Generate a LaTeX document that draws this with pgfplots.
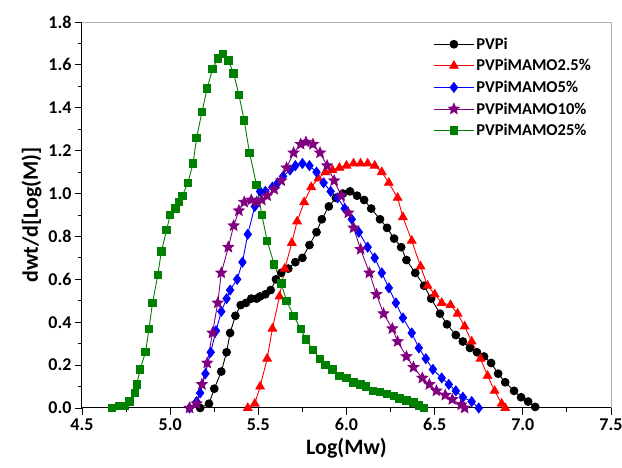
\documentclass[border=0pt]{standalone}
\usepackage{fontspec}
\setmainfont{Carlito}
\usepackage{pgfplots}
\pgfplotsset{compat=1.18}

\definecolor{cpurple}{RGB}{128,0,128}
\definecolor{cgreen}{RGB}{0,128,0}

% filled five-pointed star
\pgfdeclareplotmark{fstar}{%
  \pgfpathmoveto{\pgfpointpolar{90}{\pgfplotmarksize}}%
  \pgfpathlineto{\pgfpointpolar{126}{0.45\pgfplotmarksize}}%
  \pgfpathlineto{\pgfpointpolar{162}{\pgfplotmarksize}}%
  \pgfpathlineto{\pgfpointpolar{198}{0.45\pgfplotmarksize}}%
  \pgfpathlineto{\pgfpointpolar{234}{\pgfplotmarksize}}%
  \pgfpathlineto{\pgfpointpolar{270}{0.45\pgfplotmarksize}}%
  \pgfpathlineto{\pgfpointpolar{306}{\pgfplotmarksize}}%
  \pgfpathlineto{\pgfpointpolar{342}{0.45\pgfplotmarksize}}%
  \pgfpathlineto{\pgfpointpolar{18}{\pgfplotmarksize}}%
  \pgfpathlineto{\pgfpointpolar{54}{0.45\pgfplotmarksize}}%
  \pgfpathclose
  \pgfusepathqfillstroke
}

\begin{document}
\begin{tikzpicture}
\useasboundingbox (-82pt,-60pt) rectangle (540pt,408pt);
\begin{axis}[
  scale only axis, width=529pt, height=386pt,
  xmin=4.5, xmax=7.5, ymin=0, ymax=1.8,
  xtick={4.5,5.0,5.5,6.0,6.5,7.0,7.5},
  ytick={0,0.2,0.4,0.6,0.8,1.0,1.2,1.4,1.6,1.8},
  minor x tick num=1, minor y tick num=1,
  axis x line*=bottom, axis y line*=left,
  axis line style={-, black, line width=1pt},
  tick align=outside, major tick length=7pt, minor tick length=4pt,
  every tick/.style={black, line width=0.9pt},
  tick label style={font=\fontsize{18}{20}\selectfont\bfseries},
  xticklabel style={/pgf/number format/.cd, fixed, fixed zerofill, precision=1, assume math mode=true},
  yticklabel style={/pgf/number format/.cd, fixed, fixed zerofill, precision=1, assume math mode=true},
  xlabel={Log(Mw)}, ylabel={dwt/d[Log(M)]},
  label style={font=\fontsize{22}{24}\selectfont\bfseries},
  clip=false,
  legend style={at={(rel axis cs:0.664,0.965)}, anchor=north west, draw=none, fill=none,
    font=\fontsize{16.5}{18}\selectfont\bfseries, row sep=4.5pt, inner sep=0pt},
  legend cell align=left,
  legend image code/.code={\draw[mark repeat=2,mark phase=2,#1] plot coordinates {(0pt,0pt) (20pt,0pt) (40pt,0pt)};},
]
\addplot[black, line width=0.9pt, mark=*, mark size=3.9pt] coordinates {
(5.17,0.00)(5.22,0.02)(5.25,0.09)(5.29,0.17)(5.32,0.26)(5.34,0.35)(5.37,0.43)(5.40,0.48)(5.43,0.49)(5.46,0.51)
(5.49,0.51)(5.51,0.52)(5.54,0.53)(5.57,0.55)(5.60,0.60)(5.63,0.63)(5.67,0.65)(5.71,0.68)(5.75,0.70)(5.79,0.76)
(5.83,0.82)(5.86,0.88)(5.90,0.94)(5.94,0.98)(5.98,1.00)(6.02,1.01)(6.06,0.99)(6.10,0.97)(6.14,0.93)(6.19,0.88)
(6.23,0.84)(6.27,0.79)(6.31,0.75)(6.34,0.69)(6.39,0.63)(6.44,0.57)(6.48,0.51)(6.53,0.44)(6.57,0.39)(6.62,0.34)
(6.66,0.31)(6.70,0.28)(6.74,0.26)(6.78,0.24)(6.82,0.21)(6.86,0.16)(6.90,0.12)(6.95,0.08)(6.99,0.05)(7.03,0.03)
(7.07,0.005)};
\addlegendentry{PVPi}
\addplot[red, line width=0.9pt, mark=triangle*, mark size=4.9pt] coordinates {
(5.44,0.00)(5.48,0.02)(5.51,0.10)(5.55,0.23)(5.58,0.37)(5.62,0.52)(5.65,0.65)(5.69,0.77)(5.72,0.87)(5.76,0.96)
(5.80,1.03)(5.84,1.07)(5.88,1.10)(5.92,1.11)(5.96,1.12)(6.00,1.13)(6.04,1.14)(6.08,1.14)(6.12,1.14)(6.16,1.13)
(6.20,1.10)(6.24,1.05)(6.29,0.98)(6.32,0.89)(6.37,0.78)(6.42,0.66)(6.46,0.57)(6.50,0.53)(6.54,0.49)(6.59,0.48)
(6.63,0.44)(6.67,0.38)(6.71,0.31)(6.76,0.23)(6.80,0.15)(6.84,0.08)(6.88,0.02)(6.90,0.00)};
\addlegendentry{PVPiMAMO2.5\%}
\addplot[blue, line width=0.9pt, mark=diamond*, mark size=4.9pt] coordinates {
(5.11,0.00)(5.15,0.03)(5.17,0.07)(5.20,0.16)(5.23,0.26)(5.26,0.36)(5.29,0.45)(5.32,0.51)(5.34,0.55)(5.38,0.60)
(5.41,0.68)(5.44,0.81)(5.48,0.94)(5.51,1.01)(5.54,1.01)(5.58,1.03)(5.61,1.05)(5.64,1.08)(5.68,1.11)(5.71,1.13)
(5.75,1.14)(5.79,1.13)(5.83,1.10)(5.87,1.05)(5.91,1.01)(5.95,0.98)(5.99,0.93)(6.03,0.88)(6.07,0.82)(6.12,0.75)
(6.16,0.70)(6.20,0.63)(6.24,0.56)(6.28,0.49)(6.32,0.42)(6.37,0.35)(6.41,0.28)(6.45,0.23)(6.49,0.18)(6.54,0.14)
(6.58,0.11)(6.62,0.08)(6.66,0.05)(6.71,0.03)(6.75,0.00)};
\addlegendentry{PVPiMAMO5\%}
\addplot[cpurple, line width=0.9pt, mark=fstar, mark size=5.5pt] coordinates {
(5.11,0.00)(5.15,0.02)(5.18,0.11)(5.21,0.21)(5.24,0.35)(5.27,0.49)(5.29,0.63)(5.33,0.75)(5.36,0.85)(5.39,0.92)
(5.42,0.96)(5.46,0.97)(5.49,0.96)(5.52,0.97)(5.55,0.99)(5.59,1.02)(5.63,1.06)(5.66,1.12)(5.70,1.19)(5.74,1.23)
(5.77,1.24)(5.81,1.23)(5.85,1.19)(5.89,1.13)(5.93,1.06)(5.97,0.99)(6.01,0.91)(6.04,0.84)(6.08,0.74)(6.13,0.63)
(6.17,0.53)(6.21,0.44)(6.26,0.37)(6.29,0.31)(6.34,0.24)(6.38,0.19)(6.43,0.14)(6.47,0.11)(6.51,0.08)(6.56,0.06)
(6.60,0.04)(6.65,0.015)(6.67,0.00)};
\addlegendentry{PVPiMAMO10\%}
\addplot[cgreen, line width=0.9pt, mark=square*, mark size=3.7pt] coordinates {
(4.67,0.00)(4.71,0.01)(4.74,0.01)(4.77,0.03)(4.80,0.07)(4.81,0.11)(4.83,0.18)(4.86,0.26)(4.88,0.37)(4.90,0.49)
(4.93,0.62)(4.95,0.73)(4.98,0.83)(5.00,0.90)(5.03,0.93)(5.05,0.96)(5.07,0.99)(5.10,1.05)(5.13,1.14)(5.15,1.26)
(5.18,1.38)(5.21,1.49)(5.24,1.58)(5.27,1.63)(5.30,1.65)(5.33,1.62)(5.36,1.56)(5.39,1.46)(5.42,1.34)(5.45,1.19)
(5.49,1.04)(5.52,0.90)(5.55,0.78)(5.59,0.67)(5.63,0.58)(5.66,0.50)(5.70,0.43)(5.74,0.37)(5.77,0.32)(5.81,0.27)
(5.85,0.23)(5.88,0.20)(5.92,0.18)(5.96,0.15)(6.00,0.14)(6.04,0.12)(6.08,0.11)(6.11,0.10)(6.15,0.08)(6.19,0.075)
(6.23,0.065)(6.27,0.055)(6.30,0.045)(6.34,0.035)(6.38,0.025)(6.41,0.012)(6.44,0.00)};
\addlegendentry{PVPiMAMO25\%}
\draw[gray!60, line width=0.8pt] (rel axis cs:0,1) -- (rel axis cs:1,1) -- (rel axis cs:1,0);
\end{axis}
\end{tikzpicture}
\end{document}
